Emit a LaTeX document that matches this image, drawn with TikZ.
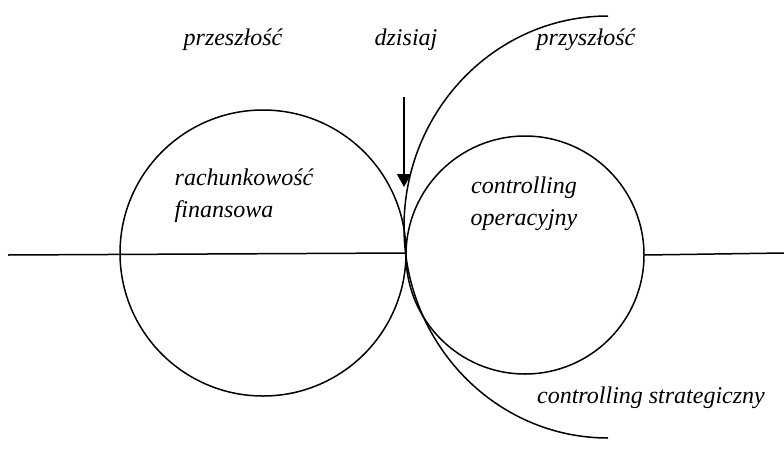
\documentclass[tikz,border=0pt]{standalone}
\usepackage{fontspec}
\setmainfont{Liberation Serif}
\usetikzlibrary{arrows.meta,positioning,shapes}

\begin{document}
\begin{tikzpicture}[x=1pt,y=-1pt,line width=1.5pt,>={Triangle[length=13pt,width=14pt]}]
\tikzstyle{ring}=[draw,circle,inner sep=0pt,line width=1.5pt]
\tikzstyle{txt}=[font=\fontsize{24}{32}\selectfont\itshape,align=left,inner sep=0pt]

\useasboundingbox (0,0) rectangle (784,450);

\node[ring,minimum size=286pt] (R) at (263,253) {};
\node[ring,minimum size=238pt] (O) at (525,255) {};
\coordinate (T) at (405,253);
\coordinate (L) at (8,255);
\coordinate (E) at (784,253);
\coordinate (S) at (608,16);
\coordinate (A) at (404,97);
\coordinate (B) at (404,187);

\node[txt]          (D) at (406,40)                  {dzisiaj};
\node[txt]          (P) [left of=D,node distance=173pt]  {przeszłość};
\node[txt]          (F) [right of=D,node distance=180pt] {przyszłość};
\node[txt]          (RF) at (244,196)               {rachunkowość\\finansowa};
\node[txt,align=center] (CO) at (524,204)           {controlling\\operacyjny};
\node[txt]          (CS) at (651,398)               {controlling strategiczny};

\draw (L) -- (T);
\draw (O.east) -- (E);
\draw (S) arc[start angle=-90,end angle=-270,x radius=204,y radius=211];
\draw[->] (A) -- (B);
\end{tikzpicture}
\end{document}
